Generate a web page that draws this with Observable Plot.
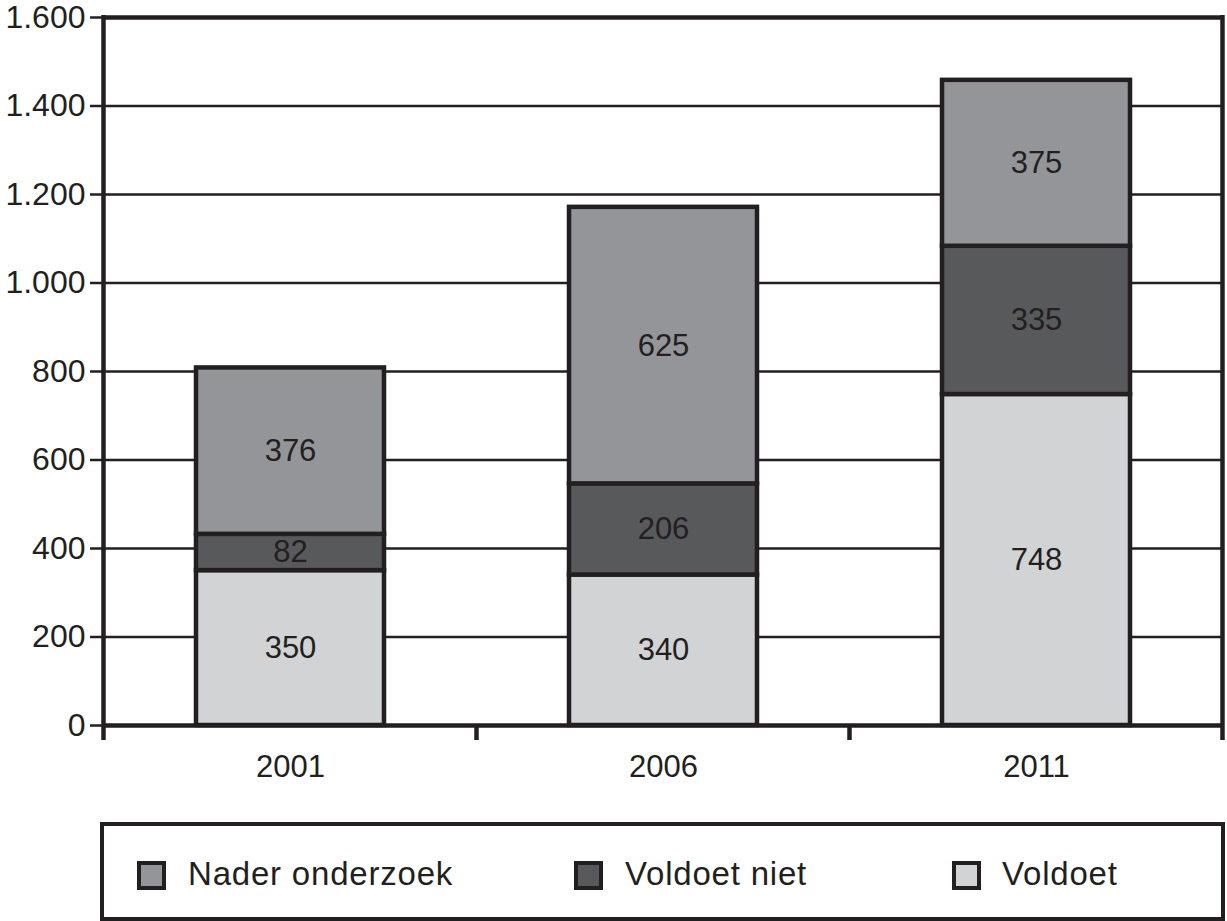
<!DOCTYPE html>
<html>
<head>
<meta charset="utf-8">
<script src="https://cdn.jsdelivr.net/npm/d3@7"></script>
<script src="https://cdn.jsdelivr.net/npm/@observablehq/plot@0.6"></script>
<style>
  body { margin: 0; background: #fff; font-family: "Liberation Sans", Arial, sans-serif; color: #231f20; }
  #wrap { position: relative; width: 1227px; height: 921px; }
  #legend { position: absolute; left: 100px; top: 822px; width: 1125px; height: 99px; box-sizing: border-box; border: 4.5px solid #231f20; }
  .sw { position: absolute; top: 35px; width: 29px; height: 29px; box-sizing: border-box; border: 4.5px solid #231f20; }
  .lb { position: absolute; top: 28px; font-size: 33px; line-height: 40px; letter-spacing: 0.8px; white-space: nowrap; }
</style>
</head>
<body>
<div id="wrap"><div id="chart"></div><div id="legend"></div></div>
<script>
const years = ["2001", "2006", "2011"];
const categories = ["Voldoet", "Voldoet niet", "Nader onderzoek"];
const voldoet = [350, 340, 748];
const voldoetNiet = [82, 206, 335];
const naderOnderzoek = [376, 625, 375];
const yTicks = [0, 200, 400, 600, 800, 1000, 1200, 1400, 1600];
const colors = ["#d1d3d4", "#58595b", "#939598"];

const series = [voldoet, voldoetNiet, naderOnderzoek];
const data = [];
categories.forEach((c, ci) => years.forEach((y, yi) => data.push({year: y, category: c, value: series[ci][yi]})));

const nl = d3.formatLocale({decimal: ",", thousands: ".", grouping: [3], currency: ["€", ""]});
const fmt = nl.format(",");
const ink = "#231f20";
const padInner = 0.496, padOuter = 0.248;

function frame(index, scales, values, dims) {
  const x = scales.x, y = scales.y;
  const step = x(years[1]) - x(years[0]);
  const gap = step * padInner / 2;
  const bw = step * (1 - padInner);
  const g = d3.create("svg:g").attr("stroke", ink).attr("stroke-width", 4.5);
  const bounds = years.map(d => x(d) - gap).concat([x(years[years.length - 1]) + bw + gap]);
  const y0 = y(0), yTop = y(d3.max(yTicks));
  bounds.forEach((b, i) => {
    const top = (i === 0 || i === bounds.length - 1) ? yTop - 2 : y0;
    g.append("line").attr("x1", b).attr("x2", b).attr("y1", top).attr("y2", y0 + 15);
  });
  return g.node();
}

const chart = Plot.plot({
  width: 1227,
  height: 800,
  marginLeft: 103,
  marginRight: 5,
  marginTop: 17,
  marginBottom: 75,
  style: {fontFamily: "'Liberation Sans', Arial, sans-serif", color: ink, background: "white"},
  x: {domain: years, paddingInner: padInner, paddingOuter: padOuter, label: null},
  y: {domain: [0, 1600], label: null},
  color: {domain: categories, range: colors},
  marks: [
    Plot.ruleY(yTicks.slice(1, -1), {stroke: ink, strokeWidth: 2.5}),
    Plot.barY(data, {x: "year", y: "value", fill: "category", z: "category", stroke: ink, strokeWidth: 4.5, strokeLinejoin: "miter"}),
    Plot.ruleY([d3.max(yTicks)], {stroke: ink, strokeWidth: 4.5}),
    Plot.ruleY([0], {stroke: ink, strokeWidth: 4.5}),
    Plot.text(data, Plot.stackY({x: "year", y: "value", z: "category", text: d => String(d.value), fontSize: 31, fill: ink})),
    Plot.axisY({ticks: yTicks, tickFormat: fmt, tickSize: 13, tickPadding: 5, fontSize: 32, stroke: ink, strokeWidth: 2.5, fill: ink}),
    Plot.axisX({tickSize: 0, tickPadding: 29, fontSize: 31, fill: ink}),
    frame
  ]
});
document.getElementById("chart").appendChild(chart);

// legend
const legend = document.getElementById("legend");
const legendOrder = ["Nader onderzoek", "Voldoet niet", "Voldoet"];
const swLeft = [33, 470, 848];
const lbLeft = [84, 521, 898];
legendOrder.forEach((c, i) => {
  const sw = document.createElement("div");
  sw.className = "sw";
  sw.style.left = swLeft[i] + "px";
  sw.style.background = colors[categories.indexOf(c)];
  legend.appendChild(sw);
  const lb = document.createElement("div");
  lb.className = "lb";
  lb.style.left = lbLeft[i] + "px";
  lb.textContent = c;
  legend.appendChild(lb);
});
</script>
</body>
</html>
